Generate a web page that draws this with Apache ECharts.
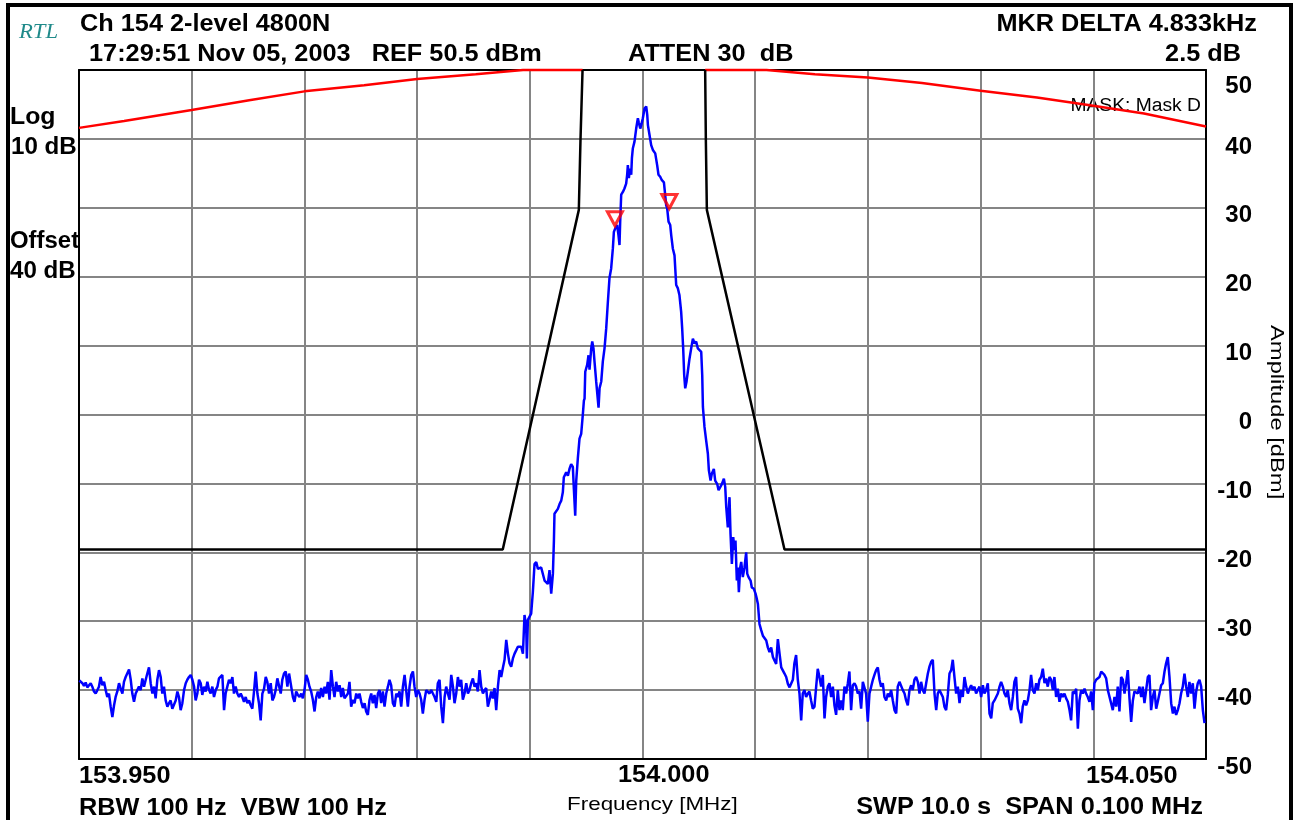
<!DOCTYPE html>
<html>
<head>
<meta charset="utf-8">
<title>Ch 154 2-level 4800N</title>
<script src="https://cdn.jsdelivr.net/npm/echarts@6/dist/echarts.min.js"></script>
<style>
  html, body { margin: 0; padding: 0; background: #fff; }
  #chart { width: 1297px; height: 820px; }
</style>
</head>
<body>
<div id="chart"></div>
<script>
// centre frequency, MHz. all x values below are offsets in kHz
const CENTER_MHZ = 154.0;

// upper mask (red), [offset kHz, dBm]
const maskLeft = [[-50, 41.6], [-46, 42.6], [-40, 44.2], [-34.9, 45.6], [-30, 46.9], [-24.7, 47.8],
  [-20, 48.7], [-14.8, 49.4], [-10.6, 50], [-5.32, 50]];
const maskRight = [[5.56, 50], [11, 50], [15.3, 49.4], [20, 48.9], [24.8, 48.1], [30, 47.0],
  [35, 46.0], [40, 44.8], [44.5, 43.7], [50, 41.8]];

// limit line (black)
const limitLeft = [[-50, -19.6], [-12.4, -19.6], [-5.65, 29.7], [-5.5, 40], [-5.32, 50]];
const limitRight = [[5.56, 50], [5.62, 40], [5.71, 29.7], [12.6, -19.6], [50, -19.6]];

// delta markers
const markers = [[-2.45, 27.4], [2.38, 29.9]];

// measured trace (blue)
const trace = [
  [-49.97,-38.6],[-49.85,-38.8],[-49.70,-39.0],[-49.56,-39.4],[-49.41,-38.9],[-49.26,-39.6],[-49.11,-39.3],[-48.96,-39.0],
  [-48.82,-39.5],[-48.67,-40.2],[-48.52,-40.5],[-48.37,-40.0],[-48.23,-39.5],[-48.08,-38.1],[-47.93,-39.3],[-47.78,-38.8],
  [-47.63,-40.0],[-47.49,-41.0],[-47.34,-40.5],[-47.19,-42.4],[-47.04,-43.9],[-46.89,-42.2],[-46.75,-41.0],[-46.60,-40.2],
  [-46.45,-39.0],[-46.30,-39.8],[-46.15,-40.5],[-46.01,-38.8],[-45.86,-38.1],[-45.71,-38.3],[-45.56,-37.0],[-45.41,-38.5],
  [-45.27,-40.5],[-45.12,-41.7],[-44.97,-40.5],[-44.82,-40.7],[-44.68,-39.5],[-44.53,-40.0],[-44.38,-38.3],[-44.23,-39.5],
  [-44.08,-38.5],[-43.94,-37.6],[-43.79,-36.7],[-43.64,-39.0],[-43.49,-40.5],[-43.34,-39.5],[-43.20,-41.2],[-43.05,-38.5],
  [-42.90,-37.1],[-42.75,-38.1],[-42.61,-40.5],[-42.46,-39.5],[-42.31,-41.5],[-42.16,-42.4],[-42.01,-41.9],[-41.87,-41.5],
  [-41.72,-42.7],[-41.57,-42.9],[-41.42,-41.5],[-41.27,-40.2],[-41.13,-41.0],[-40.98,-42.9],[-40.83,-41.9],[-40.68,-40.0],
  [-40.53,-39.0],[-40.39,-38.5],[-40.24,-38.1],[-40.09,-37.8],[-39.94,-38.5],[-39.79,-39.5],[-39.65,-41.5],[-39.50,-40.5],
  [-39.35,-38.5],[-39.20,-39.0],[-39.06,-40.7],[-38.91,-39.5],[-38.76,-40.2],[-38.61,-38.8],[-38.46,-40.0],[-38.32,-40.5],
  [-38.17,-39.5],[-38.02,-41.0],[-37.87,-40.0],[-37.72,-39.5],[-37.58,-38.3],[-37.43,-38.1],[-37.28,-37.8],[-37.13,-42.9],
  [-36.99,-40.5],[-36.84,-39.5],[-36.69,-38.5],[-36.54,-39.0],[-36.39,-38.1],[-36.25,-40.5],[-36.10,-39.5],[-35.95,-40.5],
  [-35.80,-41.0],[-35.65,-40.5],[-35.51,-41.0],[-35.36,-41.7],[-35.21,-41.0],[-35.06,-41.9],[-34.91,-41.5],[-34.77,-42.2],
  [-34.62,-42.7],[-34.47,-40.2],[-34.32,-37.3],[-34.17,-40.5],[-34.03,-41.9],[-33.88,-44.4],[-33.73,-40.5],[-33.58,-39.8],
  [-33.43,-38.1],[-33.29,-38.8],[-33.14,-40.5],[-32.99,-39.0],[-32.84,-41.5],[-32.70,-41.0],[-32.55,-40.0],[-32.40,-38.3],
  [-32.25,-38.5],[-32.10,-40.5],[-31.96,-38.5],[-31.81,-37.6],[-31.66,-37.3],[-31.51,-39.5],[-31.36,-37.6],[-31.22,-39.0],
  [-31.07,-40.5],
  [-31.02,-41.0],[-30.88,-41.7],[-30.73,-40.2],[-30.58,-40.7],[-30.43,-41.0],[-30.28,-40.5],[-30.14,-41.2],[-29.99,-40.0],
  [-29.84,-37.8],[-29.69,-38.5],[-29.55,-39.5],[-29.40,-40.2],[-29.25,-41.4],[-29.10,-43.1],[-28.95,-41.0],[-28.81,-40.2],
  [-28.66,-41.2],[-28.51,-39.7],[-28.36,-41.0],[-28.21,-39.5],[-28.07,-40.5],[-27.92,-38.8],[-27.77,-41.4],[-27.62,-37.1],
  [-27.47,-39.5],[-27.33,-41.0],[-27.18,-38.8],[-27.03,-40.2],[-26.88,-39.3],[-26.73,-41.0],[-26.59,-39.7],[-26.44,-41.2],
  [-26.29,-41.4],[-26.14,-40.5],[-26.00,-38.8],[-25.85,-42.4],[-25.70,-41.4],[-25.55,-41.9],[-25.40,-40.5],[-25.26,-41.2],
  [-25.11,-40.5],[-24.96,-41.7],[-24.81,-42.6],[-24.66,-41.9],[-24.52,-43.1],[-24.37,-43.6],[-24.22,-41.4],[-24.07,-40.5],
  [-23.93,-41.9],[-23.78,-40.7],[-23.63,-42.6],[-23.48,-40.5],[-23.33,-40.0],[-23.19,-41.9],[-23.04,-40.2],[-22.89,-42.4],
  [-22.74,-40.5],[-22.59,-39.5],[-22.45,-38.5],[-22.30,-39.3],[-22.15,-41.9],[-22.00,-42.4],[-21.85,-40.5],[-21.71,-41.0],
  [-21.56,-40.2],[-21.41,-42.4],[-21.26,-39.5],[-21.11,-37.8],[-20.97,-40.0],[-20.82,-42.4],[-20.67,-39.5],[-20.52,-37.8],
  [-20.37,-37.3],[-20.23,-39.5],[-20.08,-41.0],[-19.93,-40.0],[-19.78,-40.5],[-19.64,-41.4],[-19.49,-43.4],[-19.34,-41.4],
  [-19.19,-40.0],[-19.04,-40.2],[-18.90,-40.5],[-18.75,-40.0],[-18.60,-40.5],[-18.45,-41.0],[-18.30,-41.7],[-18.16,-39.0],
  [-18.01,-38.5],[-17.86,-42.4],[-17.71,-44.8],[-17.56,-41.0],[-17.42,-39.5],[-17.27,-40.5],[-17.12,-41.4],[-16.97,-37.8],
  [-16.82,-39.5],[-16.68,-41.9],[-16.53,-40.5],[-16.38,-38.1],[-16.23,-39.5],[-16.09,-38.5],[-15.94,-41.4],[-15.79,-40.5],
  [-15.64,-39.0],[-15.49,-40.5],[-15.35,-40.0],[-15.20,-39.0],[-15.05,-38.3],[-14.90,-39.5],[-14.75,-39.0],[-14.61,-40.2],
  [-14.46,-37.1],[-14.31,-39.5],[-14.16,-40.5],[-14.01,-40.0],[-13.87,-39.7],[-13.72,-42.4],[-13.57,-41.4],[-13.42,-40.2],
  [-13.28,-41.2],[-13.13,-39.7],[-12.98,-42.9],[-12.83,-39.5],[-12.68,-37.1],[-12.54,-38.1],[-12.39,-36.8],[-12.24,-35.6],
  [-12.09,-32.7],[-11.94,-34.7],[-11.80,-36.1],[-11.65,-36.6],[-11.50,-35.4],[-11.35,-34.7],[-11.20,-34.2],[-11.06,-33.7],
  [-10.91,-33.9],[-10.76,-33.7],[-10.61,-34.7],[-10.47,-29.1],[-10.32,-30.8],[-10.26,-35.4],[-10.17,-29.8],[-10.02,-29.6],
  [-9.88,-28.9],[-9.73,-25.8],[-9.58,-21.7],[-9.43,-21.4],[-9.28,-22.4],[-8.99,-22.2],[-8.69,-24.1],[-8.40,-24.6],
  [-8.25,-22.6],[-8.10,-26.0],[-7.95,-23.1],[-7.86,-18.3],[-7.81,-14.4],[-7.51,-13.7],[-7.36,-13.0],[-7.21,-12.5],
  [-7.07,-11.3],[-6.98,-9.1],[-6.77,-8.4],[-6.62,-8.9],[-6.48,-7.9],[-6.33,-7.2],[-6.18,-7.6],[-6.09,-10.8],
  [-5.97,-14.7],[-5.88,-9.6],[-5.74,-6.4],[-5.59,-3.5],[-5.44,-2.8],[-5.29,0.1],[-5.20,2.0],
  [-5.14,2.3],[-5.08,6.2],[-4.91,7.2],[-4.79,8.6],[-4.70,6.5],[-4.55,9.6],[-4.46,10.6],[-4.35,9.6],
  [-4.26,7.7],[-4.11,4.8],[-3.90,1.0],[-3.81,3.8],[-3.66,4.8],[-3.52,7.7],[-3.37,9.6],[-3.22,12.5],
  [-3.07,16.4],[-2.93,19.8],[-2.78,21.2],[-2.63,24.1],[-2.54,26.5],[-2.42,27.0],[-2.25,27.5],[-2.13,26.0],
  [-2.04,24.6],[-1.98,28.0],[-1.89,31.9],[-1.74,32.3],[-1.60,32.8],[-1.45,33.5],[-1.36,34.8],[-1.30,36.2],
  [-1.21,34.3],[-1.12,35.7],[-1.00,34.8],[-0.94,37.2],[-0.86,38.6],[-0.71,39.6],[-0.56,41.5],[-0.41,43.0],
  [-0.32,42.3],[-0.20,41.5],[-0.11,42.0],[0.03,43.0],[0.18,44.4],[0.33,44.7],[0.42,43.5],[0.48,42.0],
  [0.62,40.6],[0.77,39.1],[0.92,38.4],[1.01,38.6],[1.13,37.9],[1.21,37.7],[1.30,36.2],[1.42,34.8],
  [1.57,34.5],[1.72,34.0],[1.90,33.7],[2.01,31.9],[2.10,30.4],[2.19,29.9],[2.31,28.0],[2.46,27.5],
  [2.55,26.0],[2.69,24.1],[2.84,23.1],[2.99,18.8],[3.14,18.3],[3.28,17.3],[3.43,14.9],[3.52,12.5],
  [3.61,9.6],[3.70,5.7],[3.79,3.8],[3.91,4.8],[4.02,6.2],[4.17,8.1],[4.32,9.6],[4.47,11.0],
  [4.62,10.3],[4.76,10.6],[4.91,9.6],[5.06,9.6],[5.21,9.1],[5.30,5.7],
  [5.36,1.1],[5.50,-1.8],[5.65,-3.8],[5.80,-5.7],[5.89,-8.1],[6.04,-9.6],[6.15,-8.6],[6.33,-7.9],
  [6.45,-9.6],[6.63,-10.1],[6.75,-11.0],[6.89,-10.8],[7.04,-10.1],[7.22,-9.3],[7.34,-10.5],[7.43,-13.4],
  [7.57,-16.4],[7.72,-12.0],[7.81,-17.3],[7.93,-21.7],[8.05,-17.8],[8.17,-19.7],[8.25,-18.3],[8.37,-24.1],
  [8.46,-22.2],[8.55,-25.8],[8.67,-22.2],[8.76,-21.4],[8.90,-23.6],[9.05,-22.2],[9.20,-20.0],[9.29,-23.1],
  [9.41,-23.6],[9.59,-24.1],[9.70,-25.1],[9.88,-25.3],[10.03,-26.0],[10.15,-26.8],[10.24,-27.5],[10.38,-30.4],
  [10.53,-31.3],[10.68,-32.1],[10.83,-32.3],[10.98,-32.8],[11.12,-33.8],[11.27,-34.5],[11.42,-33.8],[11.57,-35.2],
  [11.71,-35.7],[11.86,-36.2],[12.01,-32.6],[12.16,-34.7],[12.31,-36.7],[12.45,-36.9],[12.60,-37.6],[12.75,-38.1],
  [12.90,-39.1],[13.05,-39.6],[13.19,-39.6],
  [13.34,-38.5],[13.48,-36.1],[13.63,-34.9],[13.78,-38.5],[13.93,-40.5],[14.08,-44.4],[14.22,-40.5],[14.37,-40.0],
  [14.52,-41.0],[14.67,-40.5],[14.81,-40.2],[14.96,-41.5],[15.11,-42.7],[15.26,-42.4],[15.41,-39.5],[15.55,-36.9],
  [15.70,-38.1],[15.85,-39.5],[16.00,-37.8],[16.15,-44.1],[16.29,-41.0],[16.44,-39.5],[16.59,-39.0],[16.74,-41.0],
  [16.89,-39.5],[17.03,-42.2],[17.18,-43.6],[17.33,-40.0],[17.48,-42.9],[17.62,-41.5],[17.77,-42.9],[17.92,-39.5],
  [18.07,-40.5],[18.22,-39.0],[18.36,-37.3],[18.51,-42.9],[18.66,-39.3],[18.81,-39.0],[18.96,-39.5],[19.10,-40.5],
  [19.25,-40.2],[19.40,-42.7],[19.55,-38.8],[19.70,-39.0],[19.84,-40.5],[19.99,-44.6],[20.14,-40.5],[20.29,-39.5],
  [20.44,-38.5],[20.58,-37.8],[20.73,-37.1],[20.88,-36.7],[21.03,-38.5],[21.17,-39.5],[21.32,-39.0],[21.47,-41.0],
  [21.62,-41.5],[21.77,-40.5],[21.91,-41.0],[22.06,-40.0],[22.21,-41.5],[22.36,-42.9],[22.51,-43.4],[22.65,-39.5],
  [22.80,-38.8],[22.95,-39.0],[23.10,-40.0],[23.25,-40.5],[23.39,-41.5],[23.54,-42.2],[23.69,-40.0],[23.84,-39.3],
  [23.98,-40.0],[24.13,-38.5],[24.28,-38.1],[24.43,-38.8],[24.58,-40.5],[24.72,-38.8],[24.87,-40.0],[25.02,-40.5],
  [25.17,-39.0],[25.32,-37.6],[25.46,-36.6],[25.61,-35.9],[25.76,-35.6],[25.91,-40.5],[26.06,-42.9],[26.20,-40.5],
  [26.35,-40.0],[26.50,-39.8],[26.65,-41.0],[26.79,-42.4],[26.94,-42.9],[27.09,-40.7],[27.24,-37.6],[27.39,-37.1],
  [27.53,-35.6],[27.68,-38.1],[27.83,-40.5],[27.98,-39.5],[28.13,-41.9],[28.27,-40.0],[28.42,-41.0],[28.57,-38.1],
  [28.72,-39.5],[28.87,-40.5],[29.01,-39.8],[29.16,-39.3],[29.31,-40.0],[29.46,-39.5],[29.60,-40.5],[29.75,-40.7],
  [29.90,-39.5],[30.05,-41.0],[30.20,-39.3],[30.34,-40.5],[30.49,-40.0],[30.64,-39.0],[30.79,-43.4],[30.94,-44.1],
  [31.08,-41.9],[31.23,-41.5],[31.38,-41.0],[31.53,-40.5],[31.68,-39.5],
  [31.82,-38.8],[31.97,-39.5],[32.12,-40.5],[32.27,-41.0],[32.41,-40.0],[32.56,-41.9],[32.71,-42.9],[32.86,-41.0],
  [33.00,-38.8],[33.15,-38.1],[33.30,-42.7],[33.45,-43.4],[33.60,-44.8],[33.74,-42.4],[33.89,-41.5],[34.04,-42.2],
  [34.19,-41.5],[34.34,-40.0],[34.48,-37.8],[34.63,-40.0],[34.78,-40.5],[34.93,-39.0],[35.08,-40.0],[35.22,-38.5],
  [35.37,-38.1],[35.52,-36.9],[35.67,-39.0],[35.81,-38.3],[35.96,-39.5],[36.11,-38.1],[36.26,-38.5],[36.41,-40.0],
  [36.55,-38.1],[36.70,-41.0],[36.85,-39.8],[37.00,-41.7],[37.15,-40.5],[37.29,-41.0],[37.44,-40.5],[37.59,-41.2],
  [37.74,-41.7],[37.89,-42.9],[38.03,-44.4],[38.18,-40.2],[38.33,-40.5],[38.48,-39.8],[38.63,-45.6],[38.77,-41.5],
  [38.92,-40.0],[39.07,-40.5],[39.22,-39.8],[39.36,-40.5],[39.51,-41.0],[39.66,-41.7],[39.81,-40.2],[39.96,-42.9],
  [40.10,-39.0],[40.25,-38.5],[40.40,-38.3],[40.55,-38.1],[40.70,-37.3],[40.84,-37.1],[40.99,-37.8],[41.14,-38.3],
  [41.29,-40.0],[41.44,-39.8],[41.58,-41.9],[41.73,-42.9],[41.88,-41.0],[42.03,-42.4],[42.17,-39.5],[42.32,-43.1],
  [42.47,-38.1],[42.62,-38.5],[42.77,-40.5],[42.91,-39.0],[43.06,-37.1],[43.21,-41.2],[43.36,-44.6],[43.51,-41.5],
  [43.65,-40.2],[43.80,-40.0],[43.95,-40.5],[44.10,-39.5],[44.25,-41.0],[44.39,-39.5],[44.54,-41.9],[44.69,-40.0],
  [44.84,-38.1],[44.98,-37.8],[45.13,-42.9],[45.28,-41.0],[45.43,-40.0],[45.58,-42.7],[45.72,-41.7],[45.87,-40.5],
  [46.02,-39.3],[46.17,-39.0],[46.32,-37.3],[46.46,-36.1],[46.61,-35.2],[46.76,-38.1],[46.91,-41.9],[47.06,-43.4],
  [47.20,-42.4],[47.35,-43.6],[47.50,-42.9],[47.65,-41.9],[47.79,-40.5],[47.94,-39.5],[48.09,-37.6],[48.24,-39.5],
  [48.39,-41.0],[48.53,-38.8],[48.68,-40.5],[48.83,-39.0],[48.98,-42.7],[49.13,-40.2],[49.27,-39.0],[49.42,-38.5],
  [49.57,-39.5],[49.72,-42.9],[49.87,-44.8]
];

// axis range
const FREQ_MIN = 153.95;
const FREQ_MAX = 154.05;
const FREQ_STEP = 0.01;
const AMP_MIN = -50;
const AMP_MAX = 50;
const AMP_STEP = 10;

const toMHz = (pts) => pts.map(p => [+(CENTER_MHZ + p[0] / 1000).toFixed(6), p[1]]);

const SANS = '"Liberation Sans", Arial, sans-serif';
const BOLD = 'bold 23px ' + SANS;
const REG = '19px ' + SANS;

// header / footer text: [text, x, y, font, align, scaleX]
const texts = [
  ['Ch 154 2-level 4800N', 80, 25, BOLD, 'left', 1.1],
  ['17:29:51 Nov 05, 2003   REF 50.5 dBm', 89, 55, BOLD, 'left', 1.1],
  ['ATTEN 30  dB', 628, 55, BOLD, 'left', 1.1],
  ['MKR DELTA 4.833kHz', 1257, 25, BOLD, 'right', 1.1],
  ['2.5 dB', 1241, 55, BOLD, 'right', 1.1],
  ['Log', 10, 118, BOLD, 'left', 1.08],
  ['10 dB', 11, 148, BOLD, 'left', 1.05],
  ['Offset', 10, 242, BOLD, 'left', 1.04],
  ['40 dB', 10, 272, BOLD, 'left', 1.05],
  ['153.950', 79, 777, BOLD, 'left', 1.1],
  ['154.000', 618, 776, BOLD, 'left', 1.1],
  ['154.050', 1086, 777, BOLD, 'left', 1.1],
  ['RBW 100 Hz  VBW 100 Hz', 79, 809, BOLD, 'left', 1.1],
  ['SWP 10.0 s  SPAN 0.100 MHz', 1203, 808, BOLD, 'right', 1.1],
  ['Frequency [MHz]', 567, 805, REG, 'left', 1.18],
  ['MASK: Mask D', 1201, 106, '18px ' + SANS, 'right', 1.07]
];

const graphic = texts.map(t => ({
  type: 'text',
  x: t[1],
  y: t[2],
  scaleX: t[5],
  silent: true,
  style: { text: t[0], font: t[3], fill: '#000', textAlign: t[4], textVerticalAlign: 'middle' }
}));

graphic.push({
  type: 'text', x: 19, y: 32, scaleX: 1.08, silent: true,
  style: { text: 'RTL', font: 'italic 21px "Liberation Serif", "Times New Roman", serif',
    fill: '#1f8a8a', textAlign: 'left', textVerticalAlign: 'middle' }
});
graphic.push({
  type: 'text', x: 1276, y: 325, rotation: -Math.PI / 2, scaleX: 1.25, silent: true,
  style: { text: 'Amplitude [dBm]', font: REG, fill: '#000', textAlign: 'left', textVerticalAlign: 'middle' }
});
// outer frame of the screen
graphic.push({
  type: 'rect', silent: true, z: 100,
  shape: { x: 8, y: 5, width: 1283, height: 830 },
  style: { fill: 'none', stroke: '#000', lineWidth: 4 }
});

const gridLine = { show: true, showMinLine: false, showMaxLine: false, lineStyle: { color: '#858585', width: 2 } };
const frameLine = { show: true, onZero: false, lineStyle: { color: '#000', width: 2 } };

const chart = echarts.init(document.getElementById('chart'));

chart.setOption({
  animation: false,
  backgroundColor: '#fff',
  grid: { left: 79, right: 91, top: 70, bottom: 61 },
  xAxis: [
    {
      type: 'value', position: 'bottom', min: FREQ_MIN, max: FREQ_MAX, interval: FREQ_STEP,
      axisLine: frameLine, axisTick: { show: false }, axisLabel: { show: false },
      splitLine: gridLine
    },
    {
      type: 'value', position: 'top', min: FREQ_MIN, max: FREQ_MAX, interval: FREQ_STEP,
      axisLine: frameLine, axisTick: { show: false }, axisLabel: { show: false },
      splitLine: { show: false }
    }
  ],
  yAxis: [
    {
      type: 'value', position: 'right', min: AMP_MIN, max: AMP_MAX, interval: AMP_STEP,
      axisLine: frameLine, axisTick: { show: false },
      splitLine: gridLine,
      axisLabel: {
        margin: 46, align: 'right', verticalAlign: 'middle', padding: [16, 0, 0, 0],
        color: '#000', fontFamily: 'Liberation Sans', fontWeight: 'bold', fontSize: 24,
        formatter: v => (v === AMP_MAX ? '{t|' + v + '}' : String(v)),
        rich: { t: { padding: [16, 0, 0, 0], color: '#000', fontFamily: 'Liberation Sans', fontWeight: 'bold', fontSize: 24 } }
      }
    },
    {
      type: 'value', position: 'left', min: AMP_MIN, max: AMP_MAX, interval: AMP_STEP,
      axisLine: frameLine, axisTick: { show: false }, axisLabel: { show: false },
      splitLine: { show: false }
    }
  ],
  graphic: graphic,
  series: [
    {
      type: 'line', data: toMHz(maskLeft), showSymbol: false, clip: false,
      lineStyle: { color: '#ff0000', width: 2.5 }, z: 3
    },
    {
      type: 'line', data: toMHz(maskRight), showSymbol: false, clip: false,
      lineStyle: { color: '#ff0000', width: 2.5 }, z: 3
    },
    {
      type: 'line', data: toMHz(limitLeft), showSymbol: false, clip: false,
      lineStyle: { color: '#000', width: 2.5 }, z: 3
    },
    {
      type: 'line', data: toMHz(limitRight), showSymbol: false, clip: false,
      lineStyle: { color: '#000', width: 2.5 }, z: 3
    },
    {
      type: 'line', data: toMHz(trace), showSymbol: false, sampling: null,
      lineStyle: { color: '#0000ff', width: 2.5 }, z: 4
    },
    {
      type: 'scatter', data: toMHz(markers),
      symbol: 'triangle', symbolRotate: 180, symbolSize: [15, 14], symbolOffset: [0, '-50%'],
      itemStyle: { color: 'rgba(255,255,255,0)', borderColor: '#ff0000', borderWidth: 3 }, z: 5
    }
  ]
});
</script>
</body>
</html>
